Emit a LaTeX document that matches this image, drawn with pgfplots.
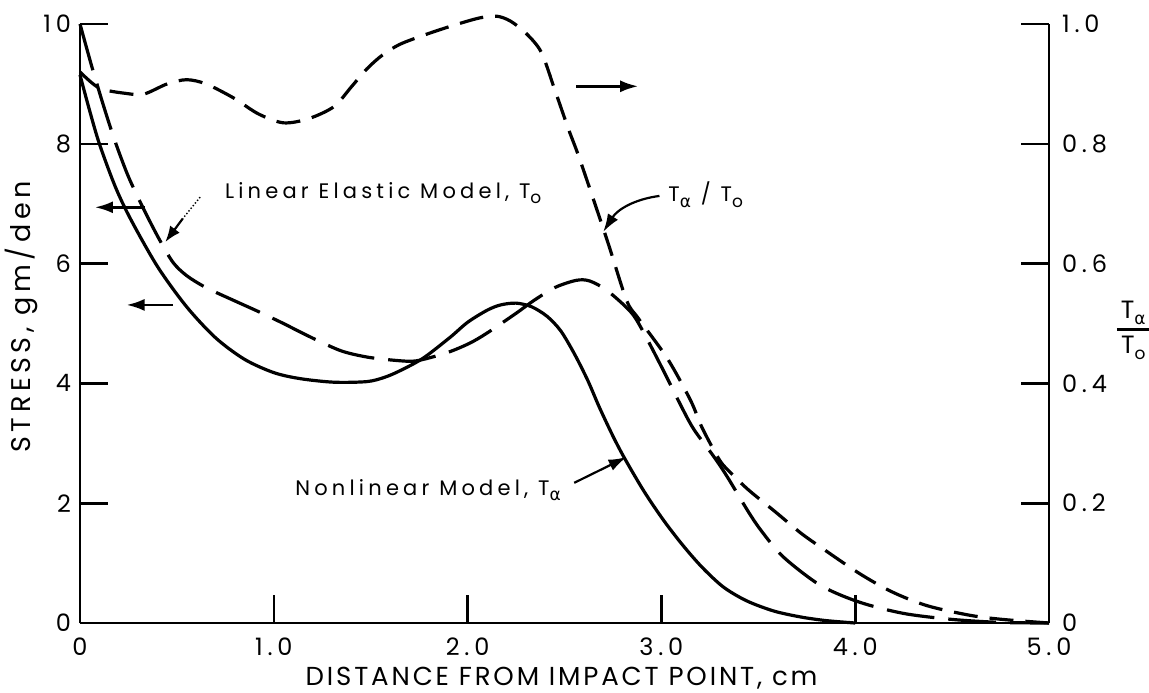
\documentclass[border=0pt]{standalone}
\usepackage{fontspec}
\setmainfont{Poppins}[LetterSpace=20]
\newfontfamily\xlabfont{Poppins}[LetterSpace=11]
\newfontfamily\ylabfont{Poppins}[LetterSpace=17]
\newfontfamily\gk{DejaVu Sans}
\usepackage{pgfplots}
\usepackage{pgfplotstable}
\pgfplotsset{compat=1.18}
\usetikzlibrary{arrows.meta}
\newcommand\sub[1]{\raisebox{-0.45ex}{\fontsize{8.5}{8.5}\selectfont #1}}
\newcommand\Ta{T\sub{{\gk α}}}
\newcommand\To{T\sub{o}}

\pgfplotstableread{
x y
0 9.15
0.05 8.55
0.10 8.0
0.18 7.3
0.26 6.75
0.40 5.95
0.55 5.28
0.70 4.76
0.85 4.40
1.00 4.18
1.135 4.08
1.31 4.02
1.48 4.03
1.57 4.1
1.65 4.21
1.77 4.42
1.91 4.77
2.00 5.02
2.10 5.22
2.17 5.31
2.25 5.34
2.33 5.28
2.41 5.12
2.48 4.88
2.55 4.5
2.62 4.05
2.68 3.6
2.75 3.12
2.81 2.75
2.91 2.2
3.01 1.72
3.11 1.3
3.21 0.93
3.32 0.6
3.44 0.37
3.58 0.2
3.72 0.1
3.85 0.04
4.0 0.0
}\nonlin

\pgfplotstableread{
x y
0 10
0.06 9.3
0.12 8.65
0.18 8.05
0.25 7.45
0.33 6.9
0.41 6.4
0.48 6.02
0.55 5.8
0.65 5.6
0.79 5.39
0.92 5.2
1.05 5.0
1.135 4.86
1.25 4.68
1.36 4.53
1.5 4.43
1.69 4.37
1.77 4.4
1.9 4.52
2.01 4.67
2.10 4.84
2.25 5.17
2.34 5.38
2.45 5.6
2.56 5.72
2.63 5.71
2.72 5.55
2.84 5.2
2.90 4.9
3.00 4.28
3.11 3.57
3.17 3.22
3.27 2.78
3.34 2.44
3.45 1.85
3.52 1.52
3.63 1.1
3.82 0.63
4.02 0.35
4.25 0.16
4.5 0.06
4.75 0.01
5.0 0
}\linear

\pgfplotstableread{
x y
0 0.92
0.10 0.893
0.24 0.884
0.33 0.883
0.45 0.9
0.55 0.907
0.65 0.9
0.79 0.877
0.92 0.85
1.05 0.835
1.18 0.842
1.31 0.862
1.40 0.895
1.48 0.925
1.56 0.948
1.65 0.966
1.78 0.982
1.92 0.997
2.06 1.01
2.15 1.013
2.22 1.005
2.30 0.985
2.38 0.953
2.45 0.89
2.52 0.825
2.58 0.773
2.72 0.639
2.82 0.539
2.88 0.509
3.03 0.442
3.15 0.372
3.21 0.326
3.30 0.272
3.36 0.25
3.45 0.222
3.59 0.185
3.72 0.15
3.82 0.127
4.02 0.083
4.19 0.052
4.37 0.029
4.59 0.013
4.76 0.006
5.0 0
}\ratio

\begin{document}
\begin{tikzpicture}
\begin{axis}[name=ax, scale only axis, width=484.5pt, height=299.5pt,
  xmin=0, xmax=5, ymin=0, ymax=10,
  axis x line*=bottom, axis y line*=left,
  axis line style={line width=1.3pt},
  xtick={0,1,2,3,4,5}, xticklabels={0,1.0,2.0,3.0,4.0,5.0},
  ytick={0,2,4,6,8,10},
  tick align=inside, major tick length=14pt,
  tick style={line width=1.3pt, black},
  /pgf/number format/assume math mode=true,
  ticklabel style={font=\fontsize{12}{13}\selectfont},
  xticklabel style={yshift=-4pt},
  yticklabel style={xshift=-1pt},
  clip=false,
]
\addplot[smooth, line width=1.6pt] table {\nonlin};
\addplot[smooth, line width=1.6pt, dash pattern=on 24pt off 7pt] table {\linear};

\node[anchor=west, font=\fontsize{10.5}{12}\selectfont] at (axis cs:0.712,7.18) {Linear Elastic Model, \To};
\draw[densely dotted, line width=0.7pt] (axis cs:0.62,7.11) -- (axis cs:0.53,6.75);
\draw[-{Latex[length=8pt,width=6pt]}, line width=1.1pt] (axis cs:0.53,6.75) -- (axis cs:0.44,6.36);
\draw[-{Latex[length=9pt,width=6pt]}, line width=1.3pt] (axis cs:0.335,6.94) -- (axis cs:0.077,6.94);
\draw[-{Latex[length=9pt,width=6pt]}, line width=1.3pt] (axis cs:0.48,5.31) -- (axis cs:0.24,5.31);
\draw[-{Latex[length=9pt,width=6pt]}, line width=1.3pt] (axis cs:2.56,8.96) -- (axis cs:2.88,8.96);

\node[anchor=west, font=\fontsize{10.5}{12}\selectfont] at (axis cs:3.0,7.15) {\Ta{} / \To};
\draw[-{Latex[length=9pt,width=6pt]}, line width=1.1pt] (axis cs:2.99,7.13) to[bend right=25] (axis cs:2.70,6.53);

\node[anchor=west, font=\fontsize{10.5}{12}\selectfont] at (axis cs:1.075,2.22) {Nonlinear Model, \Ta};
\draw[-{Latex[length=9pt,width=6pt]}, line width=1.1pt] (axis cs:2.55,2.34) -- (axis cs:2.82,2.77);

\node[rotate=90, font=\fontsize{13.5}{15}\ylabfont] at (rel axis cs:-0.060,0.511) {STRESS, gm/den};
\node[font=\fontsize{13}{15}\xlabfont] at (rel axis cs:0.497,-0.092) {DISTANCE FROM IMPACT POINT, cm};
\node[font=\fontsize{12.5}{14}\selectfont, inner sep=0pt] at (rel axis cs:1.087,0.49) {\renewcommand\arraystretch{1.15}\setlength\arrayrulewidth{1.1pt}\begin{tabular}{@{\,}c@{\,}}\Ta\\\hline \To\end{tabular}};
\end{axis}
\begin{axis}[scale only axis, width=484.5pt, height=299.5pt,
  xmin=0, xmax=5, ymin=0, ymax=1,
  axis x line=none, axis y line*=right,
  axis line style={line width=1.3pt},
  ytick={0,0.2,0.4,0.6,0.8,1.0}, yticklabels={0,0.2,0.4,0.6,0.8,1.0},
  tick align=inside, major tick length=14pt,
  tick style={line width=1.3pt, black},
  /pgf/number format/assume math mode=true,
  ticklabel style={font=\fontsize{12}{13}\selectfont},
  yticklabel style={xshift=3pt},
  clip=false,
]
\addplot[smooth, line width=1.6pt, dash pattern=on 12pt off 6pt] table {\ratio};
\end{axis}
\pgfresetboundingbox
\path[use as bounding box] ([shift={(-40pt,-34.5pt)}]ax.south west) rectangle ([shift={(50pt,12pt)}]ax.north east);
\end{tikzpicture}
\end{document}
